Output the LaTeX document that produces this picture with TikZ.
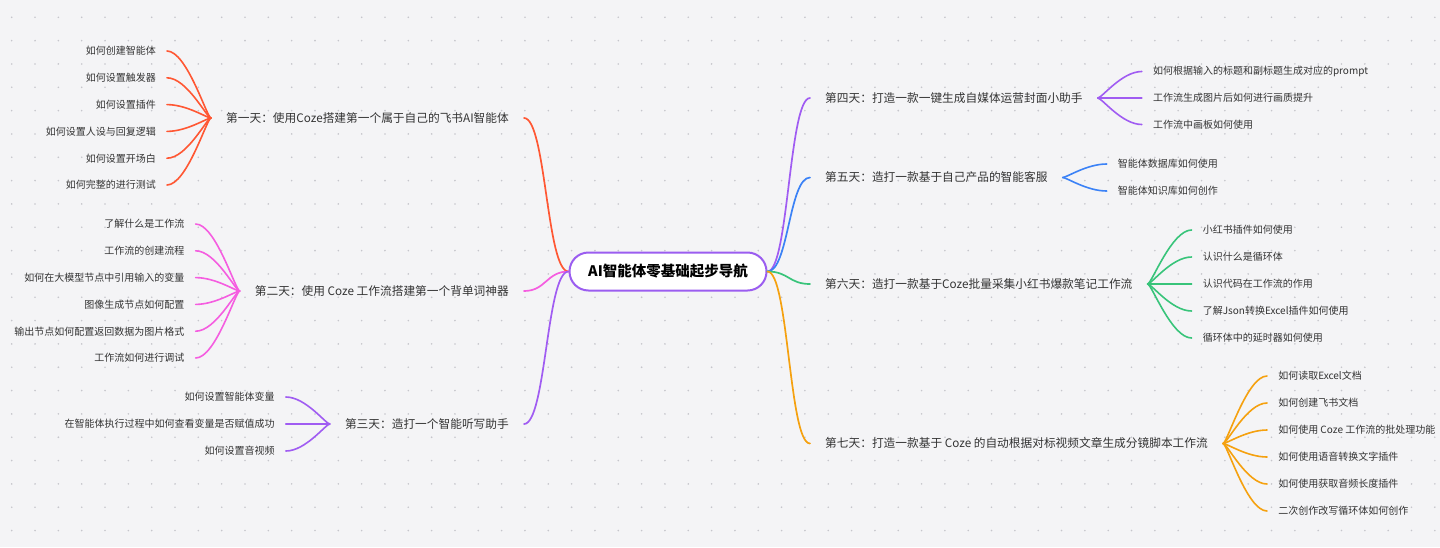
\documentclass[tikz,border=0pt]{standalone}
\usepackage{fontspec}
\setmainfont{Noto Sans CJK SC}
\usepackage{tikz}
\usetikzlibrary{positioning,calc}

\definecolor{bgcol}{HTML}{F4F4F6}
\definecolor{dotcol}{HTML}{C6C6CC}
\definecolor{txtcol}{HTML}{333333}
\definecolor{rootcol}{HTML}{9B5DF0}
\definecolor{dayone}{HTML}{FF5733}
\definecolor{daytwo}{HTML}{F55DE0}
\definecolor{daythree}{HTML}{A05CF2}
\definecolor{dayfour}{HTML}{A05CF2}
\definecolor{dayfive}{HTML}{3B82F6}
\definecolor{daysix}{HTML}{38C47A}
\definecolor{dayseven}{HTML}{F5A10F}

\tikzset{
  root/.style={draw=rootcol, line width=2pt, fill=white, rounded corners=19pt,
    minimum width=197pt, minimum height=38pt, font=\fontsize{14.5}{16}\selectfont\bfseries},
  day/.style={inner xsep=15pt, inner ysep=2pt, text=txtcol, font=\fontsize{11.7}{14}\selectfont},
  leaf/.style={inner xsep=11pt, inner ysep=1pt, text=txtcol, font=\fontsize{10}{12}\selectfont},
  branch/.style={line width=1.7pt, line cap=round},
  twig/.style={line width=1.6pt, line cap=round},
}

\begin{document}
\begin{tikzpicture}[x=1pt,y=-1pt]
  \fill[bgcol] (0,0) rectangle (1440,547); % 背景
  \useasboundingbox (0,0) rectangle (1440,547);
  \foreach \gx in {0,...,61}
    \foreach \gy in {0,...,22}
      \fill[dotcol] ({11.7+23.33*\gx},{17.3+23.33*\gy}) circle (0.9pt); % 背景の点

  \node[root] (root) at (668,271.5) {AI智能体零基础起步导航}; % 中心のテーマ

  % 左側の各日
  \node[day, anchor=east] (d1) at (524,118) {第一天：使用Coze搭建第一个属于自己的飞书AI智能体};
  \node[day, anchor=east] (d2) at (524,291) {第二天：使用 Coze 工作流搭建第一个背单词神器};
  \node[day, anchor=east] (d3) at (524,424) {第三天：造打一个智能听写助手};
  % 右側の各日
  \node[day, anchor=west] (d4) at (810,98) {第四天：打造一款一键生成自媒体运营封面小助手};
  \node[day, anchor=west] (d5) at (810,177.5) {第五天：造打一款基于自己产品的智能客服};
  \node[day, anchor=west] (d6) at (810,284) {第六天：造打一款基于Coze批量采集小红书爆款笔记工作流};
  \node[day, anchor=west] (d7) at (810,443.5) {第七天：打造一款基于 Coze 的自动根据对标视频文章生成分镜脚本工作流};

  \draw[branch, dayone] (root.west) .. controls +(-22,0) and +(22,0) .. (d1.east); % 中心から第一天へ
  \draw[branch, daytwo] (root.west) .. controls +(-22,0) and +(22,0) .. (d2.east); % 中心から第二天へ
  \draw[branch, daythree] (root.west) .. controls +(-22,0) and +(22,0) .. (d3.east); % 中心から第三天へ
  \draw[branch, dayfour] (root.east) .. controls +(21,0) and +(-21,0) .. (d4.west); % 中心から第四天へ
  \draw[branch, dayfive] (root.east) .. controls +(21,0) and +(-21,0) .. (d5.west); % 中心から第五天へ
  \draw[branch, daysix] (root.east) .. controls +(21,0) and +(-21,0) .. (d6.west); % 中心から第六天へ
  \draw[branch, dayseven] (root.east) .. controls +(21,0) and +(-21,0) .. (d7.west); % 中心から第七天へ

  % 第一天の項目
  \foreach \txt [count=\i] in {如何创建智能体,如何设置触发器,如何设置插件,如何设置人设与回复逻辑,如何设置开场白,如何完整的进行测试}
    \node[leaf, anchor=east] (d1-\i) at ($(d1.west)+(-44,{(\i-3.5)*26.8})$) {\txt};
  \foreach \i in {1,...,6}
    \draw[twig, dayone] (d1.west) .. controls +(-4,0) and +(20,0) .. (d1-\i.east);

  % 第二天の項目
  \foreach \txt [count=\i] in {了解什么是工作流,工作流的创建流程,如何在大模型节点中引用输入的变量,图像生成节点如何配置,输出节点如何配置返回数据为图片格式,工作流如何进行调试}
    \node[leaf, anchor=east] (d2-\i) at ($(d2.west)+(-44,{(\i-3.5)*26.8})$) {\txt};
  \foreach \i in {1,...,6}
    \draw[twig, daytwo] (d2.west) .. controls +(-4,0) and +(20,0) .. (d2-\i.east);

  % 第三天の項目
  \foreach \txt [count=\i] in {如何设置智能体变量,在智能体执行过程中如何查看变量是否赋值成功,如何设置音视频}
    \node[leaf, anchor=east] (d3-\i) at ($(d3.west)+(-44,{(\i-2)*27})$) {\txt};
  \foreach \i in {1,...,3}
    \draw[twig, daythree] (d3.west) .. controls +(-4,0) and +(20,0) .. (d3-\i.east);

  % 第四天の項目
  \foreach \txt [count=\i] in {如何根据输入的标题和副标题生成对应的prompt,工作流生成图片后如何进行画质提升,工作流中画板如何使用}
    \node[leaf, anchor=west] (d4-\i) at ($(d4.east)+(44,{(\i-2)*26.5})$) {\txt};
  \foreach \i in {1,...,3}
    \draw[twig, dayfour] (d4.east) .. controls +(4,0) and +(-20,0) .. (d4-\i.west);

  % 第五天の項目
  \foreach \txt [count=\i] in {智能体数据库如何使用,智能体知识库如何创作}
    \node[leaf, anchor=west] (d5-\i) at ($(d5.east)+(44,{(\i-1.5)*27})$) {\txt};
  \foreach \i in {1,2}
    \draw[twig, dayfive] (d5.east) .. controls +(4,0) and +(-20,0) .. (d5-\i.west);

  % 第六天の項目
  \foreach \txt [count=\i] in {小红书插件如何使用,认识什么是循环体,认识代码在工作流的作用,了解Json转换Excel插件如何使用,循环体中的延时器如何使用}
    \node[leaf, anchor=west] (d6-\i) at ($(d6.east)+(44,{(\i-3)*27})$) {\txt};
  \foreach \i in {1,...,5}
    \draw[twig, daysix] (d6.east) .. controls +(4,0) and +(-20,0) .. (d6-\i.west);

  % 第七天の項目
  \foreach \txt [count=\i] in {如何读取Excel文档,如何创建飞书文档,如何使用 Coze 工作流的批处理功能,如何使用语音转换文字插件,如何使用获取音频长度插件,二次创作改写循环体如何创作}
    \node[leaf, anchor=west] (d7-\i) at ($(d7.east)+(44,{(\i-3.5)*27})$) {\txt};
  \foreach \i in {1,...,6}
    \draw[twig, dayseven] (d7.east) .. controls +(4,0) and +(-20,0) .. (d7-\i.west);
\end{tikzpicture}
\end{document}
